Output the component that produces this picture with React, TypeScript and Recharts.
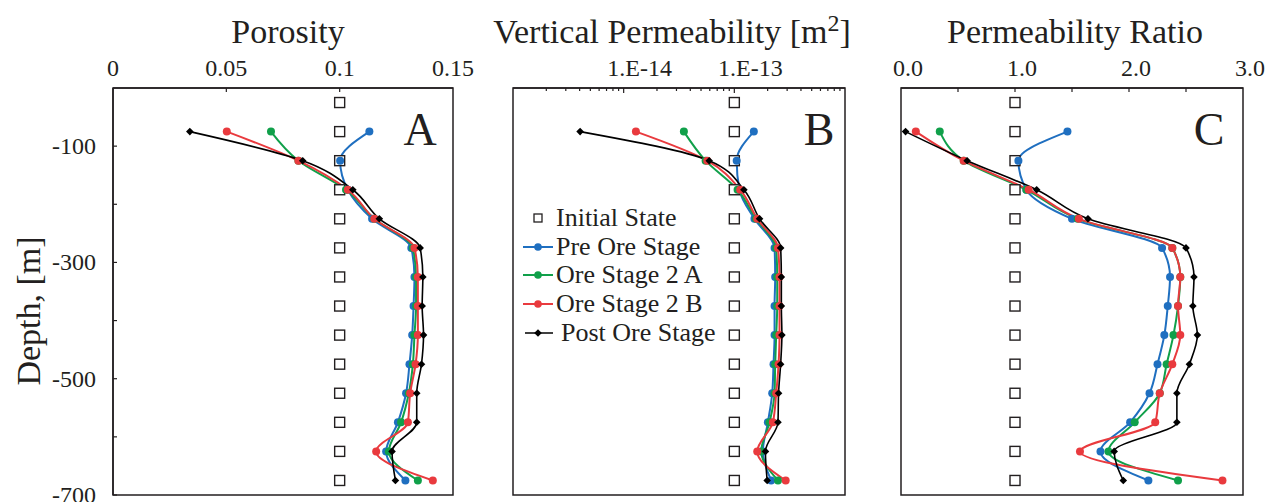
import React from 'react';
import { LineChart, Line, XAxis, YAxis, ReferenceArea } from 'recharts';

const FONT = '"Liberation Serif", "Times New Roman", serif';
const INK = '#231f20';

// ---------- data ----------
const depths = [-25, -75, -125, -175, -225, -275, -325, -375, -425, -475, -525, -575, -625, -675];

const seriesNames = ['Initial State', 'Pre Ore Stage', 'Ore Stage 2 A', 'Ore Stage 2 B', 'Post Ore Stage'];
const seriesColors = [INK, '#1f6fc0', '#10a04a', '#e93a3e', '#000000'];

// Porosity
const porInitial = [0.1, 0.1, 0.1, 0.1, 0.1, 0.1, 0.1, 0.1, 0.1, 0.1, 0.1, 0.1, 0.1, 0.1];
const porPre = [null, 0.1131, 0.1002, 0.1036, 0.1143, 0.1316, 0.133, 0.1326, 0.132, 0.1308, 0.1293, 0.1257, 0.1205, 0.129];
const porA = [null, 0.0697, 0.0818, 0.1028, 0.1153, 0.1323, 0.1337, 0.1337, 0.133, 0.1323, 0.1305, 0.1271, 0.1217, 0.1345];
const porB = [null, 0.0502, 0.0818, 0.1036, 0.1153, 0.133, 0.1345, 0.1345, 0.1345, 0.1335, 0.1311, 0.1301, 0.1161, 0.1411];
const porPost = [null, 0.0339, 0.0837, 0.1058, 0.1175, 0.1355, 0.1367, 0.1364, 0.137, 0.1361, 0.134, 0.134, 0.1231, 0.1246];

// Vertical permeability [m2]
const permInitial = [1e-13, 1e-13, 1e-13, 1e-13, 1e-13, 1e-13, 1e-13, 1e-13, 1e-13, 1e-13, 1e-13, 1e-13, 1e-13, 1e-13];
const permPre = [null, 1.5e-13, 1.05e-13, 1.11e-13, 1.52e-13, 2.31e-13, 2.34e-13, 2.31e-13, 2.31e-13, 2.26e-13, 2.2e-13, 2.01e-13, 1.81e-13, 2.15e-13];
const permA = [null, 3.5e-14, 5.5e-14, 1.07e-13, 1.57e-13, 2.39e-13, 2.44e-13, 2.44e-13, 2.39e-13, 2.34e-13, 2.31e-13, 2.08e-13, 1.75e-13, 2.48e-13];
const permB = [null, 1.29e-14, 5.7e-14, 1.13e-13, 1.61e-13, 2.48e-13, 2.56e-13, 2.56e-13, 2.56e-13, 2.51e-13, 2.39e-13, 2.23e-13, 1.61e-13, 2.91e-13];
const permPost = [null, 4.04e-15, 5.93e-14, 1.22e-13, 1.69e-13, 2.62e-13, 2.66e-13, 2.66e-13, 2.69e-13, 2.62e-13, 2.51e-13, 2.48e-13, 1.91e-13, 1.98e-13];

// Permeability ratio
const ratioInitial = [1, 1, 1, 1, 1, 1, 1, 1, 1, 1, 1, 1, 1, 1];
const ratioPre = [null, 1.46, 1.03, 1.1, 1.5, 2.29, 2.36, 2.34, 2.31, 2.25, 2.18, 2.01, 1.75, 2.17];
const ratioA = [null, 0.34, 0.55, 1.1, 1.55, 2.38, 2.45, 2.43, 2.39, 2.33, 2.27, 2.05, 1.82, 2.43];
const ratioB = [null, 0.13, 0.55, 1.12, 1.56, 2.38, 2.45, 2.43, 2.45, 2.38, 2.27, 2.23, 1.57, 2.82];
const ratioPost = [null, 0.04, 0.58, 1.19, 1.64, 2.5, 2.57, 2.56, 2.6, 2.53, 2.42, 2.42, 1.87, 1.95];

// ticks
const depthDomain: [number, number] = [-700, 0];
const depthTicks = [-700, -600, -500, -400, -300, -200, -100];
const depthLabelled = [-700, -500, -300, -100];
const porTicks = [0, 0.05, 0.1, 0.15];
const porTickLabels = ['0', '0.05', '0.1', '0.15'];
const permDecades = [1e-15, 1e-14, 1e-13];
const permMantissas = [1, 2, 3, 4, 5, 6, 7, 8, 9];
const permTicks = [...permDecades.flatMap((d) => permMantissas.map((m) => m * d)), 1e-12];
const permLabelled = [1e-14, 1e-13];
const permTickLabels = ['1.E-14', '1.E-13'];
const ratioTicks = [0, 0.5, 1, 1.5, 2, 2.5, 3];
const ratioLabelled = [0, 1, 2, 3];
const ratioTickLabels = ['0.0', '1.0', '2.0', '3.0'];

const titles = ['Porosity', 'Vertical Permeability [m', 'Permeability Ratio'];
const panelLetters = ['A', 'B', 'C'];

// ---------- helpers ----------
const near = (a: number, b: number) => Math.abs(a - b) <= Math.max(Math.abs(a), Math.abs(b)) * 1e-6;

function buildRows(init: any[], pre: any[], a: any[], b: any[], post: any[]) {
  return depths.map((d, i) => ({ depth: d, init: init[i], pre: pre[i], a: a[i], b: b[i], post: post[i] }));
}

const bad = (v: any) => v == null || Number.isNaN(v);

const SquareDot = (props: any) => {
  const { cx, cy, index } = props;
  if (bad(cx) || bad(cy)) return <g key={`sq${index}`} />;
  return <rect key={`sq${index}`} x={cx - 5} y={cy - 5} width={10} height={10} fill="#fff" stroke={INK} strokeWidth={1.4} />;
};

const circleDot = (color: string) => (props: any) => {
  const { cx, cy, index } = props;
  if (bad(cx) || bad(cy)) return <g key={`c${index}`} />;
  return <circle key={`c${index}`} cx={cx} cy={cy} r={4} fill={color} stroke="none" />;
};

const DiamondDot = (props: any) => {
  const { cx, cy, index } = props;
  if (bad(cx) || bad(cy)) return <g key={`d${index}`} />;
  const s = 3.8;
  return <polygon key={`d${index}`} points={`${cx},${cy - s} ${cx + s},${cy} ${cx},${cy + s} ${cx - s},${cy}`} fill="#000" />;
};

const makeTopTick = (labelOf: (v: number) => string | null, dx: number, lenOf: (v: number) => number) => (props: any) => {
  const { x, y, payload } = props;
  const v = payload.value;
  const lab = labelOf(v);
  const len = lenOf(v);
  return (
    <g>
      {len > 0 ? <line x1={x} x2={x} y1={y} y2={y + len} stroke={INK} strokeWidth={1.2} /> : null}
      {lab ? (
        <text x={x + dx} y={y - 12} textAnchor="middle" fontSize={24} fontFamily={FONT} fill={INK}>
          {lab}
        </text>
      ) : null}
    </g>
  );
};

const makeLeftTick = (showLabels: boolean) => (props: any) => {
  const { x, y, payload } = props;
  const v = payload.value;
  const lab = showLabels && depthLabelled.includes(v) ? String(v) : null;
  return (
    <g>
      <line x1={x} x2={x + 4} y1={y} y2={y} stroke={INK} strokeWidth={1.2} />
      {lab ? (
        <text x={x - 17} y={y + 8} textAnchor="end" fontSize={24} fontFamily={FONT} fill={INK}>
          {lab}
        </text>
      ) : null}
    </g>
  );
};

type PanelProps = {
  left: number;
  width: number;
  margin: { top: number; right: number; bottom: number; left: number };
  yAxisWidth: number;
  rows: any[];
  xScale: 'linear' | 'log';
  xDomain: [number, number];
  xTicks: number[];
  topTick: any;
  depthLabels: boolean;
};

function Panel(p: PanelProps) {
  return (
    <div style={{ position: 'absolute', left: p.left, top: 0 }}>
      <LineChart width={p.width} height={502} data={p.rows} layout="vertical" margin={p.margin}>
        <XAxis
          type="number"
          orientation="top"
          scale={p.xScale}
          domain={p.xDomain}
          allowDataOverflow
          ticks={p.xTicks}
          interval={0}
          height={30}
          tickSize={0}
          tickMargin={0}
          tickLine={false}
          tick={p.topTick}
          axisLine={{ stroke: INK, strokeWidth: 1.5 }}
        />
        <YAxis
          type="number"
          dataKey="depth"
          domain={depthDomain}
          allowDataOverflow
          reversed
          ticks={depthTicks}
          interval={0}
          width={p.yAxisWidth}
          tickSize={0}
          tickMargin={0}
          tickLine={false}
          tick={makeLeftTick(p.depthLabels)}
          axisLine={{ stroke: INK, strokeWidth: 1.5 }}
        />
        <ReferenceArea
          x1={p.xDomain[0]}
          x2={p.xDomain[1]}
          y1={depthDomain[0]}
          y2={depthDomain[1]}
          fill="none"
          fillOpacity={0}
          stroke={INK}
          strokeWidth={1.5}
          ifOverflow="visible"
        />
        <Line dataKey="init" stroke="none" dot={SquareDot} activeDot={false} isAnimationActive={false} />
        <Line type="monotone" dataKey="pre" stroke={seriesColors[1]} strokeWidth={2} dot={circleDot(seriesColors[1])} activeDot={false} isAnimationActive={false} />
        <Line type="monotone" dataKey="a" stroke={seriesColors[2]} strokeWidth={2} dot={circleDot(seriesColors[2])} activeDot={false} isAnimationActive={false} />
        <Line type="monotone" dataKey="b" stroke={seriesColors[3]} strokeWidth={2} dot={circleDot(seriesColors[3])} activeDot={false} isAnimationActive={false} />
        <Line type="monotone" dataKey="post" stroke={seriesColors[4]} strokeWidth={1.6} dot={DiamondDot} activeDot={false} isAnimationActive={false} />
      </LineChart>
    </div>
  );
}

const porTopTick = makeTopTick(
  (v) => {
    const i = porTicks.findIndex((t) => near(v, t));
    return i >= 0 ? porTickLabels[i] : null;
  },
  0,
  (v) => (near(v, 0) || near(v, 0.15) ? 0 : 4)
);

const permTopTick = makeTopTick(
  (v) => {
    const i = permLabelled.findIndex((t) => near(v, t));
    return i >= 0 ? permTickLabels[i] : null;
  },
  16,
  (v) => (near(v, 1e-15) || near(v, 1e-12) ? 0 : permDecades.some((d) => near(v, d)) ? 5 : 3)
);

const ratioTopTick = makeTopTick(
  (v) => {
    const i = ratioLabelled.findIndex((t) => near(v, t));
    return i >= 0 ? ratioTickLabels[i] : null;
  },
  7,
  (v) => (near(v, 0) || near(v, 3) ? 0 : 4)
);

function Legend() {
  const rows = [218, 247, 275, 304, 333];
  return (
    <g>
      {seriesNames.map((name, i) => {
        const y = rows[i];
        const color = seriesColors[i];
        const textX = i === 4 ? 561 : 556;
        return (
          <g key={name}>
            {i === 0 ? (
              <rect x={534} y={y - 4} width={8} height={8} fill="#fff" stroke={INK} strokeWidth={1.3} />
            ) : (
              <>
                <line x1={i === 4 ? 525 : 523} x2={553} y1={y} y2={y} stroke={color} strokeWidth={i === 4 ? 1.5 : 2} />
                {i === 4 ? (
                  <polygon points={`538,${y - 3.8} 541.8,${y} 538,${y + 3.8} 534.2,${y}`} fill="#000" />
                ) : (
                  <circle cx={538} cy={y} r={3.8} fill={color} />
                )}
              </>
            )}
            <text x={textX} y={y + 8} fontSize={26} fontFamily={FONT} fill={INK}>
              {name}
            </text>
          </g>
        );
      })}
    </g>
  );
}

export default function App() {
  const rowsA = buildRows(porInitial, porPre, porA, porB, porPost);
  const rowsB = buildRows(permInitial, permPre, permA, permB, permPost);
  const rowsC = buildRows(ratioInitial, ratioPre, ratioA, ratioB, ratioPost);
  return (
    <div style={{ position: 'absolute', left: 0, top: 0, width: 1282, height: 502, background: '#fff', overflow: 'hidden', fontFamily: FONT }}>
      <Panel
        left={0}
        width={478}
        margin={{ top: 58, right: 25, bottom: 7, left: 53 }}
        yAxisWidth={60}
        rows={rowsA}
        xScale="linear"
        xDomain={[0, 0.15]}
        xTicks={porTicks}
        topTick={porTopTick}
        depthLabels
      />
      <Panel
        left={480}
        width={380}
        margin={{ top: 58, right: 15, bottom: 7, left: 33 }}
        yAxisWidth={0}
        rows={rowsB}
        xScale="log"
        xDomain={[1e-15, 1e-12]}
        xTicks={permTicks}
        topTick={permTopTick}
        depthLabels={false}
      />
      <Panel
        left={880}
        width={400}
        margin={{ top: 58, right: 37, bottom: 7, left: 21 }}
        yAxisWidth={0}
        rows={rowsC}
        xScale="linear"
        xDomain={[0, 3]}
        xTicks={ratioTicks}
        topTick={ratioTopTick}
        depthLabels={false}
      />
      <svg width={1282} height={502} style={{ position: 'absolute', left: 0, top: 0, pointerEvents: 'none' }}>
        <text x={288} y={43} textAnchor="middle" fontSize={34} fontFamily={FONT} fill={INK}>
          {titles[0]}
        </text>
        <text x={672} y={43} textAnchor="middle" fontSize={34} fontFamily={FONT} fill={INK}>
          {titles[1]}
          <tspan fontSize={24} dy={-12}>2</tspan>
          <tspan dy={12}>]</tspan>
        </text>
        <text x={1075} y={43} textAnchor="middle" fontSize={34} fontFamily={FONT} fill={INK}>
          {titles[2]}
        </text>
        <text x={40} y={311} textAnchor="middle" fontSize={34} fontFamily={FONT} fill={INK} transform="rotate(-90 40 311)">
          Depth, [m]
        </text>
        <text x={420} y={145} textAnchor="middle" fontSize={46} fontFamily={FONT} fill={INK}>
          {panelLetters[0]}
        </text>
        <text x={819} y={145} textAnchor="middle" fontSize={46} fontFamily={FONT} fill={INK}>
          {panelLetters[1]}
        </text>
        <text x={1209} y={145} textAnchor="middle" fontSize={46} fontFamily={FONT} fill={INK}>
          {panelLetters[2]}
        </text>
        <Legend />
      </svg>
    </div>
  );
}
